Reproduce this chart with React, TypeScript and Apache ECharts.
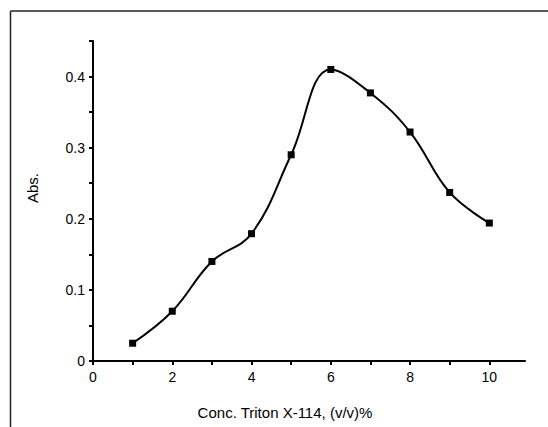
import React, { useEffect, useRef } from "react";
import * as echarts from "echarts";

const concentrations = [1, 2, 3, 4, 5, 6, 7, 8, 9, 10];
const absorbance = [0.025, 0.07, 0.14, 0.179, 0.29, 0.41, 0.377, 0.322, 0.237, 0.194];
const xLabelValues = [0, 2, 4, 6, 8, 10];
const yLabelValues = [0, 0.1, 0.2, 0.3, 0.4];
const xTitle = "Conc. Triton X-114, (v/v)%";
const yTitle = "Abs.";

export default function App() {
  const ref = useRef<HTMLDivElement>(null);
  useEffect(() => {
    if (!ref.current) return;
    const chart = echarts.init(ref.current, undefined, { renderer: "svg" });
    const font = "Liberation Sans, Arial, sans-serif";
    chart.setOption({
      animation: false,
      backgroundColor: "#fff",
      grid: { left: 93, top: 41, right: 23, bottom: 66, containLabel: false },
      xAxis: {
        type: "value",
        min: 0,
        max: 10.9,
        interval: 1,
        name: xTitle,
        nameLocation: "middle",
        nameGap: 44,
        nameTextStyle: { color: "#000", fontSize: 15, fontFamily: font, padding: [0, 48, 0, 0] },
        axisLine: { show: true, lineStyle: { color: "#000", width: 2 } },
        axisTick: { show: true, length: 4, lineStyle: { color: "#000", width: 2 } },
        splitLine: { show: false },
        axisLabel: {
          color: "#000",
          fontSize: 14,
          fontFamily: font,
          margin: 9,
          showMaxLabel: false,
          formatter: (v: number) => (xLabelValues.some((t) => Math.abs(t - v) < 1e-6) ? String(v) : ""),
        },
      },
      yAxis: {
        type: "value",
        min: 0,
        max: 0.45,
        interval: 0.05,
        name: yTitle,
        nameLocation: "middle",
        nameGap: 53,
        nameTextStyle: { color: "#000", fontSize: 15, fontFamily: font, padding: [0, 0, 0, 26] },
        axisLine: { show: true, lineStyle: { color: "#000", width: 2 } },
        axisTick: { show: true, length: 4, lineStyle: { color: "#000", width: 2 } },
        splitLine: { show: false },
        axisLabel: {
          color: "#000",
          fontSize: 14,
          fontFamily: font,
          margin: 8,
          formatter: (v: number) => {
            const m = yLabelValues.find((t) => Math.abs(t - v) < 1e-6);
            return m === undefined ? "" : String(m);
          },
        },
      },
      series: [
        {
          type: "line",
          data: concentrations.map((c, i) => [c, absorbance[i]]),
          smooth: 0.4,
          symbol: "rect",
          symbolSize: 7,
          itemStyle: { color: "#000" },
          lineStyle: { color: "#000", width: 2 },
        },
      ],
      graphic: [
        { type: "line", shape: { x1: 10.5, y1: 11, x2: 548, y2: 11 }, style: { stroke: "#222", lineWidth: 1.5 } },
        { type: "line", shape: { x1: 10.5, y1: 11, x2: 10.5, y2: 427 }, style: { stroke: "#222", lineWidth: 1.5 } },
      ],
    });
    return () => chart.dispose();
  }, []);
  return (
    <div
      ref={ref}
      style={{ position: "fixed", left: 0, top: 0, width: 548, height: 427 }}
    />
  );
}
